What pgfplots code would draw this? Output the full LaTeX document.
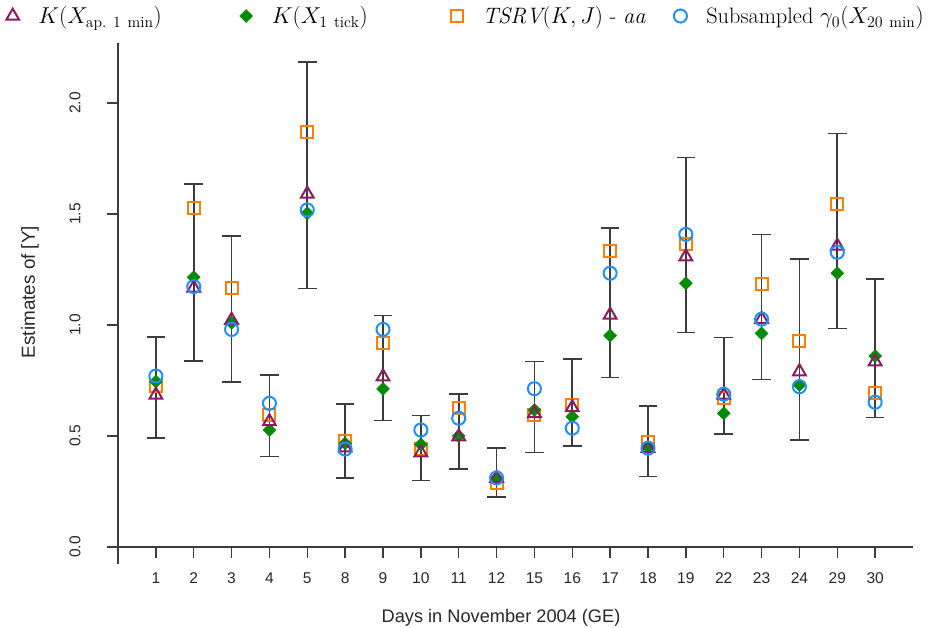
\documentclass[border=0pt]{standalone}
\usepackage{fontspec}
\setsansfont{Liberation Sans}
\usepackage{pgfplots}
\usepackage{pgfplotstable}
\pgfplotsset{compat=1.18}
\definecolor{cmaroon}{RGB}{139,28,98}
\definecolor{cgreen}{RGB}{0,139,0}
\definecolor{corange}{RGB}{255,127,0}
\definecolor{cblue}{RGB}{30,144,255}
\definecolor{axgray}{RGB}{60,60,60}
\definecolor{txtgray}{RGB}{40,40,40}
\pgfplotstableread{
pos day lo hi tri dia sq circ
1  1  0.492 0.947 0.685 0.745 0.725 0.770
2  2  0.839 1.635 1.167 1.215 1.528 1.173
3  3  0.742 1.401 1.022 1.010 1.165 0.980
4  4  0.407 0.776 0.565 0.527 0.595 0.647
5  5  1.164 2.185 1.590 1.503 1.871 1.518
6  8  0.311 0.643 0.447 0.467 0.479 0.441
7  9  0.569 1.042 0.767 0.712 0.920 0.980
8  10 0.299 0.592 0.425 0.462 0.440 0.527
9  11 0.351 0.689 0.497 0.500 0.625 0.580
10 12 0.225 0.447 0.310 0.310 0.290 0.311
11 15 0.425 0.836 0.602 0.617 0.595 0.713
12 16 0.455 0.848 0.628 0.587 0.640 0.535
13 17 0.763 1.438 1.045 0.952 1.335 1.233
14 18 0.318 0.634 0.445 0.450 0.471 0.445
15 19 0.967 1.755 1.308 1.188 1.365 1.408
16 22 0.509 0.944 0.685 0.602 0.670 0.688
17 23 0.754 1.408 1.026 0.962 1.185 1.026
18 24 0.482 1.297 0.790 0.730 0.929 0.722
19 29 0.985 1.863 1.356 1.233 1.545 1.327
20 30 0.584 1.206 0.835 0.860 0.692 0.652
}\datatable
\begin{document}
\begin{tikzpicture}
\begin{axis}[
  at={(0,0)}, anchor=south west,
  scale only axis, width=596.25bp, height=378bp,
  xmin=0, xmax=21, ymin=0, ymax=2.27,
  axis lines*=left,
  clip=false,
  axis line style={draw=axgray, line width=1.1bp},
  tick style={draw=axgray, line width=1.1bp},
  tick align=outside,
  major tick length=8bp,
  xtick={1,...,20},
  xticklabels={1,2,3,4,5,8,9,10,11,12,15,16,17,18,19,22,23,24,29,30},
  ytick={0,0.5,1,1.5,2},
  yticklabels={0.0,0.5,1.0,1.5,2.0},
  ticklabel style={font=\sffamily\fontsize{11.7}{13}\selectfont, text=txtgray},
  xticklabel style={anchor=north, yshift=-8bp},
  yticklabel style={xshift=-16.5bp, rotate=90, anchor=south},
  xlabel={Days in November 2004 (GE)},
  ylabel={Estimates of [Y]},
  every axis x label/.style={at={(axis description cs:0.4818,-0.14)}, anchor=center,
     font=\sffamily\fontsize{13.7}{15}\selectfont, text=txtgray},
  every axis y label/.style={at={(axis description cs:-0.1107,0.506)}, anchor=center, rotate=90,
     font=\sffamily\fontsize{14.2}{15}\selectfont, text=txtgray},
  legend columns=4,
  legend image code/.code={\draw[#1] plot coordinates {(0bp,0bp)};},
  legend style={at={(axis description cs:-0.1404,1.0535)}, anchor=west, draw=none, fill=none,
     inner sep=0pt, outer sep=0pt,
     font=\fontsize{16.8}{18}\selectfont,
     nodes={inner sep=0pt},
     /tikz/every odd column/.style={column sep=14.5bp}},
]
\addplot[draw=none, mark=none, forget plot,
  error bars/.cd, y dir=both, y explicit,
  error bar style={draw=axgray, line width=1.2bp},
  error mark options={rotate=90, draw=axgray, line width=1.2bp, mark size=7bp}]
  table[x=pos, y expr=(\thisrow{lo}+\thisrow{hi})/2, y error expr=(\thisrow{hi}-\thisrow{lo})/2] {\datatable};
\addplot[only marks, mark=square, mark size=4.5bp, draw=corange, line width=1.5bp, forget plot] table[x=pos, y=sq] {\datatable};
\addplot[only marks, mark=square*, mark size=3.4bp, draw=cgreen, fill=cgreen, mark options={rotate=45}, forget plot] table[x=pos, y=dia] {\datatable};
\addplot[only marks, mark=triangle, mark size=5.5bp, draw=cmaroon, line width=1.5bp, forget plot] table[x=pos, y=tri] {\datatable};
\addplot[only marks, mark=o, mark size=4.9bp, draw=cblue, line width=1.5bp, forget plot] table[x=pos, y=circ] {\datatable};
% legend entries
\addlegendimage{only marks, mark=triangle, mark size=5.5bp, draw=cmaroon, line width=1.5bp}
\addlegendentry{\makebox[151bp][l]{$K(X_{\mathrm{ap.\ 1\ min}})$}}
\addlegendimage{only marks, mark=square*, mark size=3.4bp, draw=cgreen, fill=cgreen, mark options={rotate=45}}
\addlegendentry{\makebox[134.5bp][l]{$K(X_{1\ \mathrm{tick}})$}}
\addlegendimage{only marks, mark=square, mark size=4.5bp, draw=corange, line width=1.5bp}
\addlegendentry{\makebox[143.5bp][l]{$\mathit{TSRV}(K,J)$ - $\mathit{aa}$}}
\addlegendimage{only marks, mark=o, mark size=4.9bp, draw=cblue, line width=1.5bp}
\addlegendentry{Subsampled $\gamma_0(X_{20\ \mathrm{min}})$}
\draw[axgray, line width=1.1bp] (axis cs:0,0) -- ++(0bp,-13bp);
\draw[axgray, line width=1.1bp] (axis cs:0,0) -- ++(-8bp,0bp);
\end{axis}
\pgfresetboundingbox
\path (-88.5bp,-60.75bp) rectangle (616.5bp,410.25bp);
\end{tikzpicture}
\end{document}
